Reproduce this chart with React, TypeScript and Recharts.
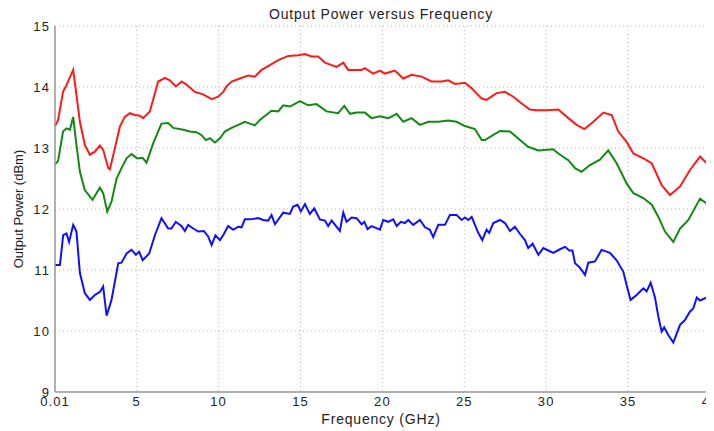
import * as React from 'react';
import { LineChart, Line, XAxis, YAxis, CartesianGrid } from 'recharts';

// frequencies (GHz) and output power (dBm), per trace
const redFreq = [0.01, 0.2, 0.5, 0.71, 1.12, 1.32, 1.53, 1.83, 2.14, 2.44, 2.75, 2.95, 3.26, 3.36, 3.66, 3.97, 4.27, 4.58, 4.89, 5.19, 5.39, 5.8, 6.31, 6.72, 7.02, 7.39, 7.74, 8.04, 8.55, 9.06, 9.57, 9.97, 10.28, 10.48, 10.79, 11.3, 11.81, 12.21, 12.62, 13.13, 13.64, 14.25, 14.86, 15.27, 15.67, 16.08, 16.49, 17.2, 17.61, 17.91, 18.73, 18.93, 19.44, 19.85, 20.15, 20.76, 21.27, 21.78, 22.39, 23.0, 23.61, 24.02, 24.43, 25.04, 25.45, 26.06, 26.36, 26.97, 27.48, 27.99, 28.5, 29.0, 29.42, 30.03, 30.74, 31.35, 31.86, 32.33, 32.88, 33.49, 34.0, 34.4, 34.91, 35.32, 35.93, 36.44, 37.05, 37.56, 38.17, 38.78, 39.39, 39.8, 40];
const redPower = [13.36, 13.46, 13.92, 14.03, 14.28, 13.87, 13.43, 13.05, 12.89, 12.94, 13.04, 12.97, 12.67, 12.65, 12.99, 13.35, 13.51, 13.57, 13.54, 13.53, 13.49, 13.6, 14.09, 14.15, 14.11, 14.01, 14.09, 14.04, 13.92, 13.88, 13.8, 13.84, 13.92, 14.01, 14.09, 14.14, 14.19, 14.17, 14.28, 14.36, 14.44, 14.51, 14.52, 14.54, 14.5, 14.5, 14.4, 14.33, 14.4, 14.28, 14.28, 14.31, 14.22, 14.27, 14.22, 14.27, 14.14, 14.2, 14.17, 14.09, 14.09, 14.11, 14.05, 14.07, 13.98, 13.81, 13.79, 13.9, 13.92, 13.84, 13.73, 13.63, 13.62, 13.62, 13.63, 13.49, 13.38, 13.31, 13.43, 13.58, 13.54, 13.27, 13.1, 12.91, 12.83, 12.75, 12.39, 12.23, 12.37, 12.64, 12.86, 12.75, 12.54];

const greenFreq = [0.01, 0.2, 0.5, 0.71, 0.92, 1.12, 1.32, 1.53, 1.83, 2.3, 2.75, 2.95, 3.2, 3.46, 3.77, 4.07, 4.38, 4.68, 5.03, 5.36, 5.6, 6.01, 6.51, 6.92, 7.23, 7.84, 8.24, 8.65, 8.96, 9.22, 9.47, 9.77, 10.08, 10.38, 10.79, 11.2, 11.6, 11.91, 12.21, 12.52, 13.23, 13.64, 13.94, 14.35, 14.96, 15.47, 15.98, 16.59, 17.3, 17.67, 18.02, 18.42, 18.93, 19.34, 19.85, 20.36, 20.87, 21.27, 21.78, 22.29, 22.8, 23.41, 24.02, 24.53, 25.04, 25.65, 26.06, 26.26, 26.67, 27.18, 27.79, 28.4, 28.9, 29.52, 30.03, 30.43, 30.74, 31.35, 31.76, 32.16, 32.67, 33.28, 33.79, 34.3, 34.91, 35.32, 35.93, 36.44, 36.85, 37.25, 37.76, 38.17, 38.68, 39.39, 39.8, 40];
const greenPower = [12.73, 12.79, 13.27, 13.32, 13.3, 13.51, 13.05, 12.61, 12.31, 12.15, 12.35, 12.26, 11.96, 12.12, 12.5, 12.67, 12.83, 12.9, 12.83, 12.84, 12.76, 13.08, 13.4, 13.41, 13.33, 13.3, 13.27, 13.26, 13.21, 13.13, 13.16, 13.09, 13.16, 13.27, 13.33, 13.38, 13.43, 13.4, 13.37, 13.46, 13.61, 13.6, 13.7, 13.68, 13.77, 13.7, 13.72, 13.6, 13.57, 13.69, 13.56, 13.58, 13.58, 13.49, 13.52, 13.49, 13.56, 13.43, 13.49, 13.38, 13.43, 13.43, 13.45, 13.43, 13.36, 13.31, 13.13, 13.13, 13.2, 13.28, 13.27, 13.13, 13.02, 12.96, 12.97, 12.98, 12.91, 12.8, 12.67, 12.61, 12.72, 12.81, 12.96, 12.75, 12.42, 12.26, 12.18, 12.07, 11.87, 11.63, 11.46, 11.68, 11.82, 12.17, 12.09, 11.79];

const blueFreq = [0.01, 0.31, 0.51, 0.71, 0.87, 1.12, 1.32, 1.53, 1.83, 2.14, 2.44, 2.75, 2.95, 3.16, 3.46, 3.87, 4.07, 4.38, 4.68, 4.95, 5.15, 5.36, 5.76, 6.11, 6.51, 6.92, 7.12, 7.39, 7.74, 7.94, 8.14, 8.45, 8.75, 9.1, 9.36, 9.57, 9.81, 10.08, 10.28, 10.58, 10.89, 11.2, 11.4, 11.6, 11.91, 12.42, 12.72, 13.03, 13.23, 13.44, 13.94, 14.35, 14.55, 14.82, 15.02, 15.27, 15.57, 15.84, 16.18, 16.49, 16.69, 16.9, 17.4, 17.61, 17.81, 18.12, 18.42, 18.73, 18.9, 19.09, 19.34, 19.85, 20.05, 20.36, 20.66, 20.87, 21.13, 21.37, 21.58, 21.88, 22.29, 22.6, 22.9, 23.1, 23.41, 23.82, 24.12, 24.53, 24.84, 25.04, 25.24, 25.45, 25.85, 26.1, 26.36, 26.52, 26.77, 27.18, 27.48, 27.79, 28.09, 28.4, 28.7, 28.9, 29.17, 29.52, 29.82, 30.13, 30.43, 30.84, 31.15, 31.41, 31.6, 31.76, 32.02, 32.37, 32.57, 32.98, 33.38, 33.89, 34.3, 34.71, 34.91, 35.15, 35.52, 35.93, 36.13, 36.38, 36.64, 36.85, 37.05, 37.2, 37.46, 37.76, 38.17, 38.47, 38.78, 38.98, 39.19, 39.39, 39.8, 40];
const bluePower = [11.08, 11.08, 11.57, 11.6, 11.46, 11.74, 11.63, 10.95, 10.62, 10.51, 10.59, 10.64, 10.73, 10.25, 10.51, 11.11, 11.12, 11.27, 11.33, 11.25, 11.3, 11.16, 11.27, 11.57, 11.85, 11.68, 11.68, 11.79, 11.72, 11.64, 11.74, 11.68, 11.63, 11.64, 11.55, 11.41, 11.57, 11.49, 11.57, 11.72, 11.66, 11.71, 11.7, 11.83, 11.83, 11.85, 11.82, 11.81, 11.9, 11.75, 11.94, 11.92, 12.04, 12.07, 11.96, 12.08, 11.92, 12.01, 11.83, 11.81, 11.72, 11.81, 11.64, 11.94, 11.79, 11.86, 11.85, 11.75, 11.79, 11.67, 11.72, 11.66, 11.82, 11.79, 11.83, 11.72, 11.79, 11.77, 11.82, 11.74, 11.82, 11.7, 11.66, 11.54, 11.74, 11.74, 11.9, 11.9, 11.82, 11.86, 11.82, 11.87, 11.61, 11.49, 11.66, 11.61, 11.77, 11.82, 11.77, 11.64, 11.71, 11.59, 11.49, 11.36, 11.43, 11.25, 11.36, 11.32, 11.28, 11.34, 11.38, 11.32, 11.32, 11.11, 11.05, 10.92, 11.12, 11.14, 11.33, 11.28, 11.16, 10.97, 10.75, 10.51, 10.59, 10.7, 10.65, 10.79, 10.55, 10.23, 9.99, 10.06, 9.93, 9.81, 10.1, 10.18, 10.32, 10.37, 10.55, 10.5, 10.55, 10.34];

const xTicks = [0.01, 5, 10, 15, 20, 25, 30, 35, 40];
const yTicks = [9, 10, 11, 12, 13, 14, 15];

function toPoints(freq: number[], power: number[]) {
  return freq.map((f, i) => ({ f, p: power[i] }));
}

const FONT = '"Liberation Sans", Arial, sans-serif';
const tickStyle = { fontSize: 13, fill: '#222', fontFamily: FONT, letterSpacing: 1.1 };

export default function App() {
  return (
    <div style={{ position: 'relative', width: 706, height: 420, fontFamily: FONT }}>
      <div style={{ position: 'absolute', left: 0, width: 746, top: -2, textAlign: 'center', fontSize: 14, letterSpacing: 0.8, color: '#222' }}>
        Output Power versus Frequency
      </div>
      <div style={{ position: 'absolute', left: 0, width: 746, top: 404, lineHeight: 1, textAlign: 'center', fontSize: 14, letterSpacing: 0.8, color: '#222' }}>
        Frequency (GHz)
      </div>
      <div style={{ position: 'absolute', left: 10, top: 201, width: 0, height: 0 }}>
        <div style={{ position: 'absolute', transform: 'translate(-50%, -50%) rotate(-90deg)', whiteSpace: 'nowrap', fontSize: 13, color: '#222' }}>
          Output Power (dBm)
        </div>
      </div>
      <LineChart width={706} height={420} margin={{ top: 18, right: 4, left: 7, bottom: 0 }}>
        <CartesianGrid stroke="#b8b8b8" strokeDasharray="1 3" xAxisId="b" yAxisId="l" />
        <XAxis xAxisId="b" dataKey="f" type="number" domain={[0.01, 40]} ticks={xTicks} interval={0}
          allowDataOverflow height={36} tickLine={false} tickSize={0} tickMargin={5}
          axisLine={{ stroke: '#9a9a9a', strokeWidth: 1.5 }} tick={tickStyle} />
        <XAxis xAxisId="t" orientation="top" dataKey="f" type="number" domain={[0.01, 40]} height={0}
          tick={false} tickLine={false} axisLine={{ stroke: '#9a9a9a', strokeWidth: 1.5 }} />
        <YAxis yAxisId="l" type="number" domain={[9, 15]} ticks={yTicks} interval={0} width={40}
          tickLine={false} tickSize={0} tickMargin={5}
          axisLine={{ stroke: '#9a9a9a', strokeWidth: 1.5 }} tick={tickStyle} />
        <YAxis yAxisId="r" orientation="right" type="number" domain={[9, 15]} width={0}
          tick={false} tickLine={false} axisLine={{ stroke: '#9a9a9a', strokeWidth: 1.5 }} />
        <Line xAxisId="b" yAxisId="l" data={toPoints(redFreq, redPower)} dataKey="p" stroke="#ff1a1a"
          strokeWidth={2} dot={false} isAnimationActive={false} type="linear" />
        <Line xAxisId="b" yAxisId="l" data={toPoints(greenFreq, greenPower)} dataKey="p" stroke="#108a10"
          strokeWidth={2} dot={false} isAnimationActive={false} type="linear" />
        <Line xAxisId="b" yAxisId="l" data={toPoints(blueFreq, bluePower)} dataKey="p" stroke="#1010ff"
          strokeWidth={2} dot={false} isAnimationActive={false} type="linear" />
      </LineChart>
    </div>
  );
}
